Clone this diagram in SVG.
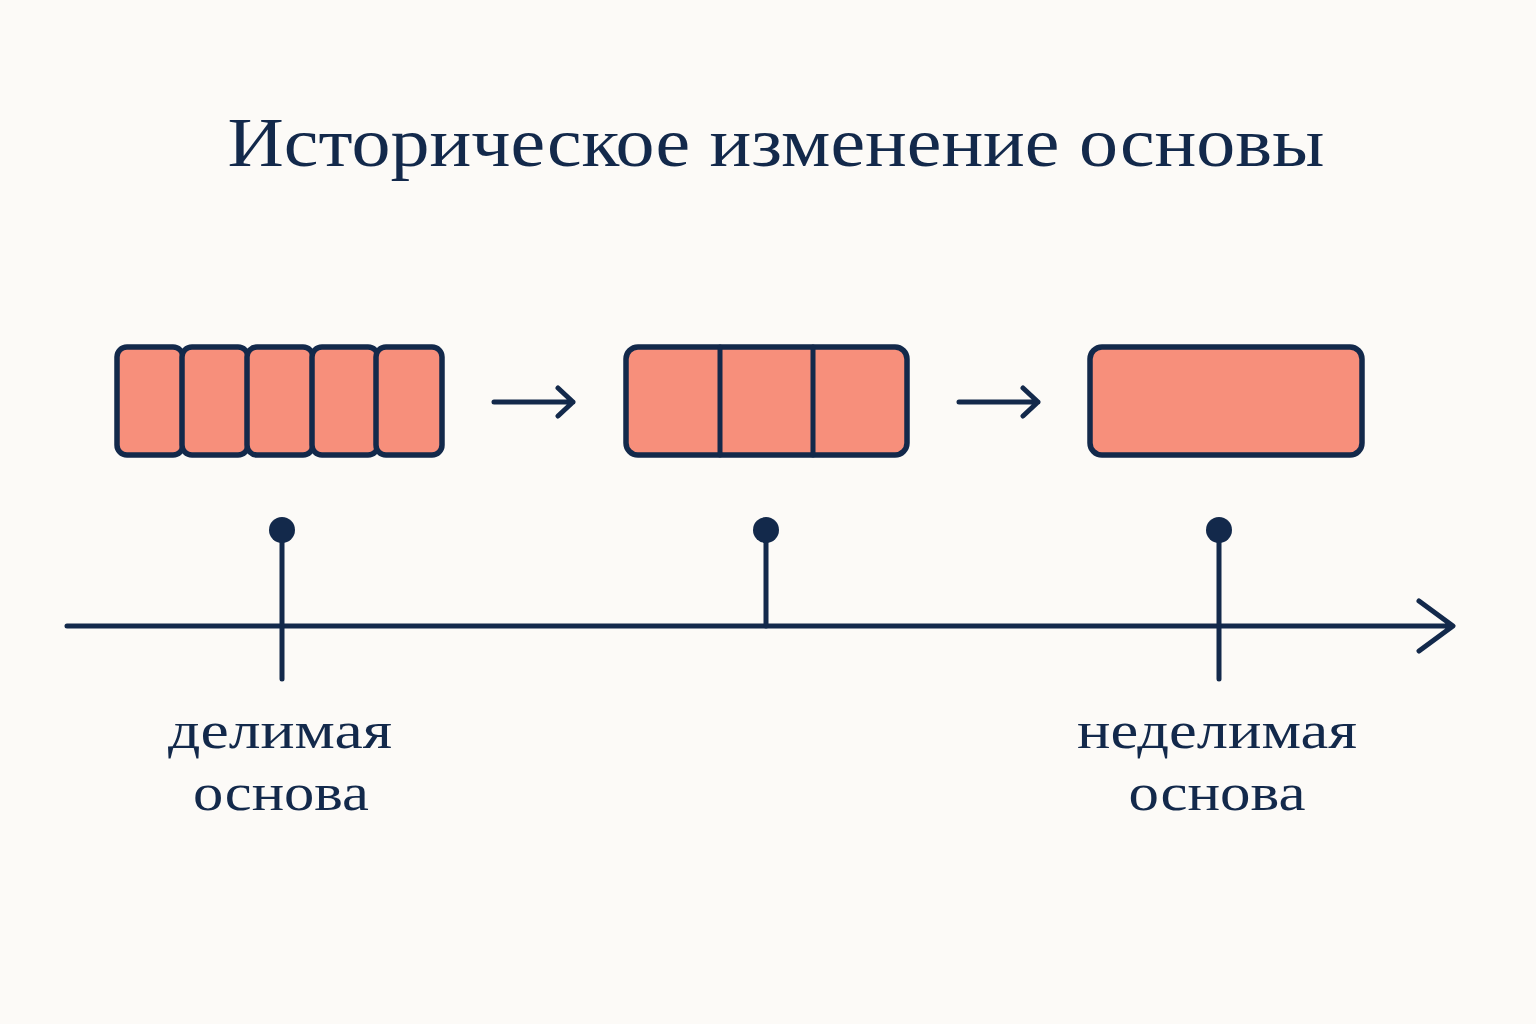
<svg xmlns="http://www.w3.org/2000/svg" width="1536" height="1024" viewBox="0 0 1536 1024">
<style>
.t{font-family:"Liberation Serif","DejaVu Serif",serif;fill:#13294b;text-anchor:middle}
.c{fill:#f78f7b;stroke:#13294b;stroke-width:5.5}
.l{stroke:#13294b;stroke-width:5;fill:none;stroke-linecap:round;stroke-linejoin:round}
</style>
<rect width="1536" height="1024" fill="#fcfaf7"/>
<text class="t" x="776" y="166" font-size="70" textLength="1097" lengthAdjust="spacingAndGlyphs">Историческое изменение основы</text>
<g id="stage1">
<rect class="c" x="117" y="347" width="66" height="108" rx="10"/>
<rect class="c" x="182" y="347" width="66" height="108" rx="10"/>
<rect class="c" x="247" y="347" width="66" height="108" rx="10"/>
<rect class="c" x="312" y="347" width="66" height="108" rx="10"/>
<rect class="c" x="376" y="347" width="66" height="108" rx="10"/>
</g>
<g id="stage2">
<rect class="c" x="626" y="347" width="281" height="108" rx="12"/>
<line class="l" x1="720" y1="347" x2="720" y2="455" stroke-width="5.5"/>
<line class="l" x1="813" y1="347" x2="813" y2="455" stroke-width="5.5"/>
</g>
<g id="stage3">
<rect class="c" x="1090" y="347" width="272" height="108" rx="12"/>
</g>
<g id="connectors">
<path class="l" d="M494 402H573M558 388L573 402L558 416" stroke-width="3"/>
<path class="l" d="M959 402H1038M1023 388L1038 402L1023 416" stroke-width="3"/>
<path class="l" d="M67 626H1452M1419 601L1453 626L1419 651" stroke-width="5.5"/>
<line class="l" x1="282" y1="530" x2="282" y2="679" stroke-width="3.5"/>
<line class="l" x1="766" y1="530" x2="766" y2="626" stroke-width="3.5"/>
<line class="l" x1="1219" y1="530" x2="1219" y2="679" stroke-width="3.5"/>
<circle cx="282" cy="530" r="13" fill="#13294b"/>
<circle cx="766" cy="530" r="13" fill="#13294b"/>
<circle cx="1219" cy="530" r="13" fill="#13294b"/>
</g>
<g id="label1"><text class="t" x="280" y="748" font-size="52" textLength="224" lengthAdjust="spacingAndGlyphs">делимая</text><text class="t" x="281" y="810" font-size="52" textLength="176" lengthAdjust="spacingAndGlyphs">основа</text></g>
<g id="label2"><text class="t" x="1217" y="748" font-size="52" textLength="280" lengthAdjust="spacingAndGlyphs">неделимая</text><text class="t" x="1217" y="810" font-size="52" textLength="177" lengthAdjust="spacingAndGlyphs">основа</text></g>
</svg>
